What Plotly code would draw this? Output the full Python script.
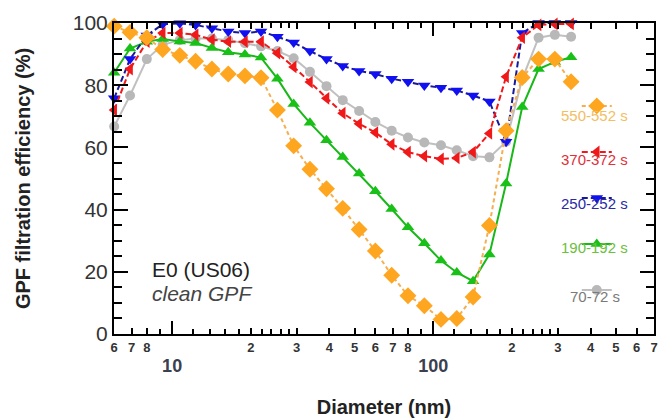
import numpy as np
import plotly.graph_objects as go

# ---------------- data ----------------
diameter_nm = [6.0, 6.9, 8.0, 9.2, 10.7, 12.3, 14.2, 16.4, 19.0, 21.9, 25.3, 29.2, 33.7, 39.0,
               45.0, 52.0, 60.0, 69.3, 80.0, 92.4, 107, 123, 142, 164, 190, 219, 253, 292, 337]

eff_550_552 = [99.0, 97.0, 95.3, 91.5, 89.6, 87.7, 85.2, 83.6, 83.0, 82.4, 72.0, 60.5, 53.0, 46.7,
               40.4, 33.6, 26.7, 18.9, 12.3, 9.1, 4.7, 5.0, 11.9, 34.9, 65.4, 82.5, 88.4, 88.4, 81.1]
eff_370_372 = [72.0, 85.2, 94.0, 96.8, 96.8, 96.2, 94.7, 94.0, 94.0, 94.0, 90.3, 85.9, 81.0, 75.8,
               71.0, 67.6, 64.8, 61.0, 58.5, 57.2, 56.3, 56.6, 58.5, 64.5, 82.7, 95.3, 99.4, 99.7, 99.7]
eff_250_252 = [75.8, 88.4, 96.0, 99.6, 99.9, 99.4, 98.3, 97.3, 96.8, 97.3, 95.6, 93.7, 91.0, 88.4,
               86.2, 84.6, 83.6, 82.1, 81.1, 79.9, 79.2, 78.3, 76.7, 74.8, 61.8, 96.8, 100.0, 100.0, 100.0]
eff_190_192 = [84.0, 91.8, 94.0, 94.9, 94.1, 93.6, 92.0, 90.6, 89.9, 88.9, 82.1, 74.0, 67.9, 62.3,
               56.9, 51.6, 45.9, 40.2, 34.3, 29.2, 23.6, 19.8, 17.0, 25.6, 48.4, 73.0, 85.2, 87.5, 89.0]
eff_70_72 = [66.7, 76.7, 88.4, 93.0, 94.5, 95.0, 95.0, 94.5, 93.5, 92.5, 91.0, 88.7, 84.3, 79.7,
             75.2, 71.7, 68.2, 65.4, 63.2, 61.6, 60.7, 59.1, 57.2, 56.8, 61.8, 82.0, 95.3, 96.2, 95.6]

series_labels = ["70-72 s", "190-192 s", "250-252 s", "370-372 s", "550-552 s"]

x_tickvals = [6, 7, 8, 20, 30, 40, 50, 60, 70, 80, 200, 300, 400, 500, 600, 700]
x_ticktext = ["6", "7", "8", "2", "3", "4", "5", "6", "7", "8", "2", "3", "4", "5", "6", "7"]
x_decades = [10, 100]
x_minor = [9, 12, 14, 16, 18, 22, 24, 26, 28, 90, 120, 140, 160, 180, 220, 240, 260, 280]

FONT = "Liberation Sans, Arial, sans-serif"

styles = {
    "70-72 s":   dict(y=eff_70_72,   sym="circle",        size=10, mcol="#B8B8B8", lcol="#C0C0C0", dash="solid", tcol="#7A7A7A", rank=5),
    "190-192 s": dict(y=eff_190_192, sym="triangle-up",   size=11, mcol="#18C018", lcol="#18B818", dash="solid", tcol="#6CC040", rank=4),
    "250-252 s": dict(y=eff_250_252, sym="triangle-down", size=11, mcol="#1010F0", lcol="#18189A", dash="6px,3px", tcol="#2A2AA8", rank=3),
    "370-372 s": dict(y=eff_370_372, sym="triangle-left", size=11, mcol="#F01818", lcol="#F01818", dash="6px,3px", tcol="#E0303A", rank=2),
    "550-552 s": dict(y=eff_550_552, sym="diamond",       size=13, mcol="#FFA620", lcol="#F5AE50", dash="4px,3px", tcol="#F2BE62", rank=1),
}

fig = go.Figure()
for i, lab in enumerate(series_labels):
    s = styles[lab]
    fig.add_trace(go.Scatter(
        x=diameter_nm, y=s["y"], mode="lines+markers", name="",
        xaxis="x2" if lab == "550-552 s" else "x",
        legendgroup=lab, legendrank=s["rank"], showlegend=True, cliponaxis=False,
        marker=dict(symbol=s["sym"], size=s["size"], color=s["mcol"], line=dict(width=0)),
        line=dict(color=s["lcol"], width=2, dash=s["dash"]),
        hovertemplate=lab + "<br>%{x:.1f} nm: %{y:.1f}%<extra></extra>",
    ))

# legend labels placed beneath the legend symbols
label_y = {"550-552 s": 0.704, "370-372 s": 0.560, "250-252 s": 0.421, "190-192 s": 0.277, "70-72 s": 0.119}
annotations = []
for lab in series_labels:
    annotations.append(dict(x=0.89, y=label_y[lab], xref="paper", yref="paper", text=lab,
                            showarrow=False, xanchor="center", yanchor="middle",
                            font=dict(family=FONT, size=15, color=styles[lab]["tcol"])))
annotations.append(dict(x=0.066, y=0.2075, xref="paper", yref="paper", text="E0 (US06)",
                        showarrow=False, xanchor="left", yanchor="middle",
                        font=dict(family=FONT, size=21, color="#222222")))
annotations.append(dict(x=0.066, y=0.129, xref="paper", yref="paper", text="<i>clean GPF</i>",
                        showarrow=False, xanchor="left", yanchor="middle",
                        font=dict(family=FONT, size=21, color="#444444")))

xr = [np.log10(5.99), np.log10(700)]
fig.update_layout(
    width=663, height=420,
    margin=dict(l=114, r=5, t=23, b=79),
    paper_bgcolor="white", plot_bgcolor="white",
    font=dict(family=FONT, color="#222222"),
    showlegend=True,
    legend=dict(x=0.857, y=0.78, xanchor="left", yanchor="top", bgcolor="rgba(0,0,0,0)",
                font=dict(size=12), tracegroupgap=27, traceorder="grouped", itemwidth=30),
    annotations=annotations,
    xaxis=dict(type="log", range=xr, tickmode="array", tickvals=x_tickvals, ticktext=x_ticktext,
               ticks="inside", ticklen=6, tickwidth=2, tickcolor="black",
               showline=True, linewidth=2, linecolor="black", mirror="ticks",
               showgrid=False, zeroline=False,
               tickfont=dict(size=13, color="#333333", weight="bold"),
               minor=dict(tickmode="array", tickvals=x_minor, ticks="inside", ticklen=5,
                          tickwidth=2, tickcolor="black", showgrid=False),
               title=dict(text="<b>Diameter (nm)</b>", font=dict(size=20, color="#222222"), standoff=46)),
    xaxis2=dict(type="log", range=xr, overlaying="x", anchor="y", side="bottom",
                tickmode="array", tickvals=x_decades, ticktext=["10", "100"],
                ticks="inside", ticklen=13, tickwidth=2, tickcolor="black", mirror="ticks",
                showline=False, showgrid=False, zeroline=False, ticklabelstandoff=19,
                tickfont=dict(size=18, color="#3A4050", weight="bold")),
    yaxis=dict(range=[0, 100.01], tickmode="linear", tick0=0, dtick=20,
               ticks="inside", ticklen=14, tickwidth=2, tickcolor="black",
               showline=True, linewidth=2, linecolor="black", mirror="ticks",
               showgrid=False, zeroline=False,
               tickfont=dict(size=21, color="#333333"),
               minor=dict(dtick=5, ticks="inside", ticklen=8, tickwidth=2, tickcolor="black", showgrid=False),
               title=dict(text="<b>GPF filtration efficiency (%)</b>", font=dict(size=20, color="#222222"), standoff=37)),
)

fig.write_html("out.html")
